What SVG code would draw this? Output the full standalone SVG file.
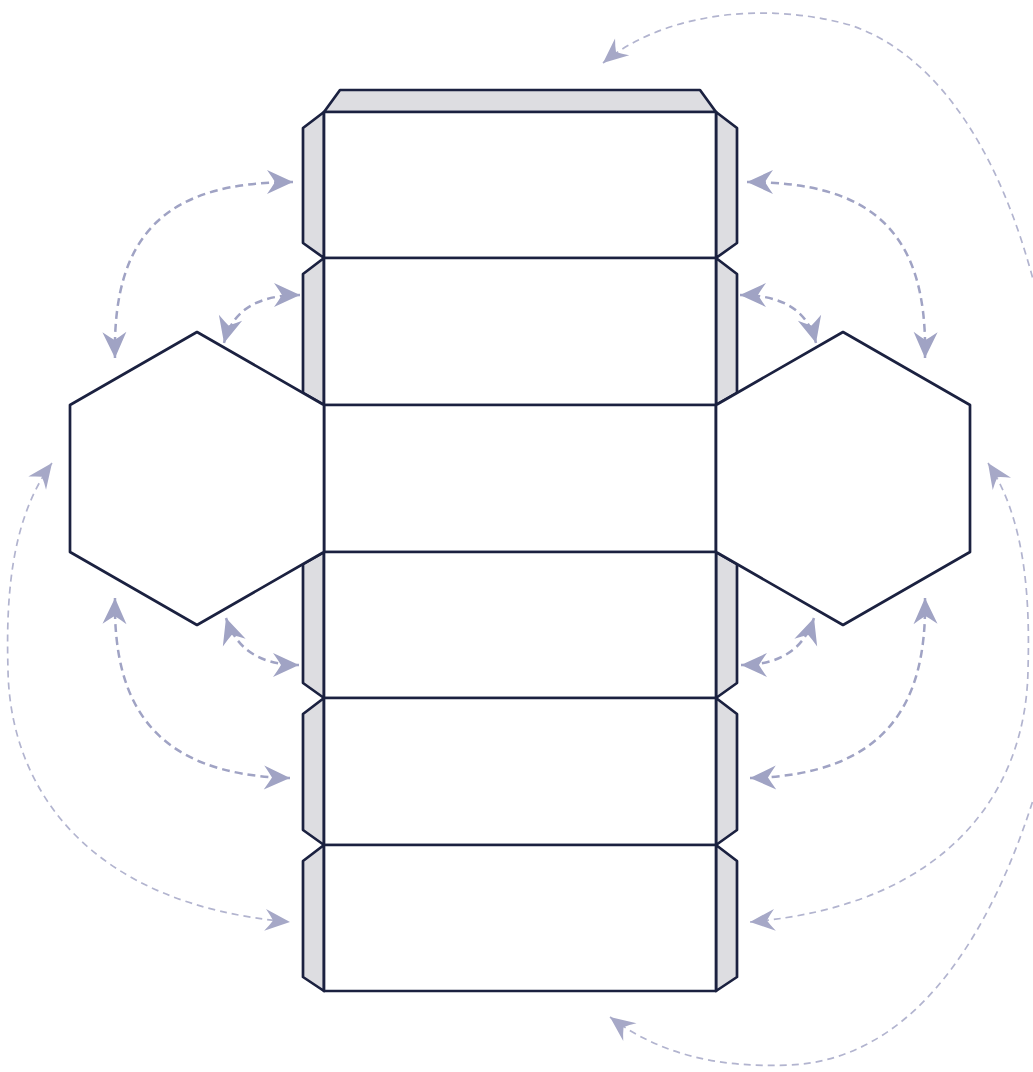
<svg xmlns="http://www.w3.org/2000/svg" width="1033" height="1072" viewBox="0 0 1033 1072">
<style>
.tab{fill:#dddde1;stroke:#1b2140;stroke-width:2.7;stroke-linejoin:round}
.face{fill:#ffffff;stroke:#1b2140;stroke-width:2.7;stroke-linejoin:round}
.arr{fill:none;stroke:#a0a3c4;stroke-width:2.5;stroke-dasharray:8 5;marker-start:url(#ah);marker-end:url(#ah)}
.arr2{fill:none;stroke:#b2b4cf;stroke-width:1.7;stroke-dasharray:7 5}
</style>
<defs>
<marker id="ah" viewBox="-30 -15 32 30" refX="0" refY="0" markerWidth="32" markerHeight="30" markerUnits="userSpaceOnUse" orient="auto-start-reverse">
<path d="M0,0 L-26,-12 Q-21,-5 -18,0 Q-21,5 -26,12 Z" fill="#a0a3c4"/>
</marker>
<marker id="ah2" viewBox="-30 -15 32 30" refX="0" refY="0" markerWidth="32" markerHeight="30" markerUnits="userSpaceOnUse" orient="auto-start-reverse">
<path d="M0,0 L-25,-11 Q-20,-5 -17,0 Q-20,5 -25,11 Z" fill="#a6a8c7"/>
</marker>
</defs>
<rect width="1033" height="1072" fill="#ffffff"/>
<g id="tabs">
<polygon id="tab-top" class="tab" points="324,112 340,90 700,90 716,112"/>
<polygon id="tab-l1" class="tab" points="324,112 303,128 303,243 324,258"/>
<polygon id="tab-l2" class="tab" points="324,258 303,274 303,393 324,405"/>
<polygon id="tab-l4" class="tab" points="324,552 303,564 303,683 324,698"/>
<polygon id="tab-l5" class="tab" points="324,698 303,714 303,830 324,845"/>
<polygon id="tab-l6" class="tab" points="324,845 303,861 303,977 324,991"/>
<polygon id="tab-r1" class="tab" points="716,112 737,128 737,243 716,258"/>
<polygon id="tab-r2" class="tab" points="716,258 737,274 737,393 716,405"/>
<polygon id="tab-r4" class="tab" points="716,552 737,564 737,683 716,698"/>
<polygon id="tab-r5" class="tab" points="716,698 737,714 737,830 716,845"/>
<polygon id="tab-r6" class="tab" points="716,845 737,861 737,977 716,991"/>
</g>
<g id="faces">
<rect id="face1" class="face" x="324" y="112" width="392" height="146"/>
<rect id="face2" class="face" x="324" y="258" width="392" height="147"/>
<rect id="face3" class="face" x="324" y="405" width="392" height="147"/>
<rect id="face4" class="face" x="324" y="552" width="392" height="146"/>
<rect id="face5" class="face" x="324" y="698" width="392" height="147"/>
<rect id="face6" class="face" x="324" y="845" width="392" height="146"/>
</g>
<g id="hex-left"><polygon class="face" points="324,405 197,332 70,405 70,552 197,625 324,552"/></g>
<g id="hex-right"><polygon class="face" points="716,405 843,332 970,405 970,552 843,625 716,552"/></g>
<g id="connectors">
<path class="arr" d="M115,358 C112,230 170,182 293,182"/>
<path class="arr" d="M224,343 C232,312 255,295 300,295"/>
<path class="arr2" style="marker-start:url(#ah2);marker-end:url(#ah2)" d="M52,463 C10,520 6,600 8,670 C10,790 90,905 290,922"/>
<path class="arr" d="M115,598 C113,700 150,775 290,778"/>
<path class="arr" d="M226,618 C235,645 255,665 299,665"/>
<path class="arr" d="M925,358 C928,230 870,182 747,182"/>
<path class="arr" d="M816,343 C808,312 785,295 740,295"/>
<path class="arr" d="M925,598 C927,700 890,775 750,778"/>
<path class="arr" d="M814,618 C805,645 785,665 741,665"/>
<path class="arr2" style="marker-start:url(#ah2);marker-end:url(#ah2)" d="M988,463 C1026,520 1030,600 1028,670 C1026,790 950,905 750,922"/>
<path class="arr2" style="marker-start:url(#ah2)" d="M603,63 C660,15 760,0 850,25 C940,55 1010,160 1045,330"/>
<path class="arr2" style="marker-start:url(#ah2)" d="M610,1017 C660,1055 720,1068 790,1065 C900,1060 990,960 1045,760"/>
</g>
</svg>
